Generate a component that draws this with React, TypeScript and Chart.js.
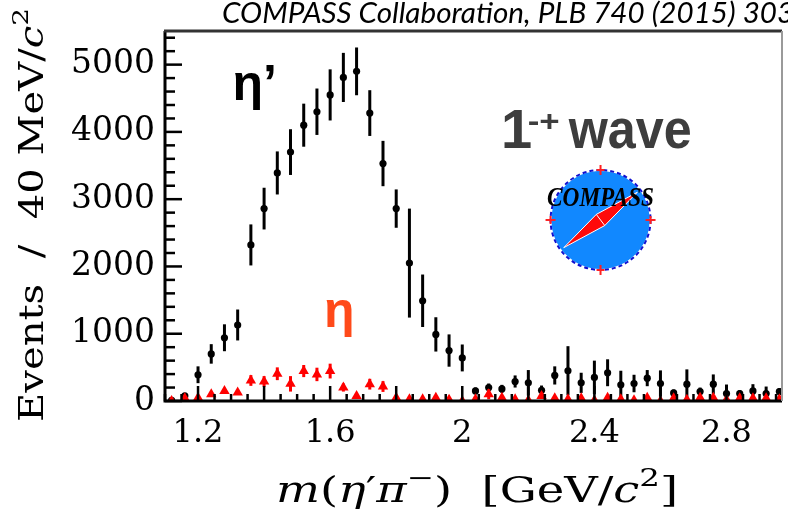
import React, { useEffect, useRef } from "react";
import { Chart, registerables } from "chart.js";

Chart.register(...registerables);

// ---- data (40 MeV bins, bin centres in GeV/c^2) ----
const MASS_GEV = [
  1.12, 1.16, 1.2, 1.24, 1.28, 1.32, 1.36, 1.4, 1.44, 1.48, 1.52, 1.56, 1.6, 1.64, 1.68, 1.72,
  1.76, 1.8, 1.84, 1.88, 1.92, 1.96, 2.0, 2.04, 2.08, 2.12, 2.16, 2.2, 2.24, 2.28, 2.32, 2.36,
  2.4, 2.44, 2.48, 2.52, 2.56, 2.6, 2.64, 2.68, 2.72, 2.76, 2.8, 2.84, 2.88, 2.92, 2.96,
];
const ETA_PRIME_EVENTS = [
  10, 75, 390, 700, 940, 1130, 2320, 2860, 3390, 3700, 4100, 4300, 4550, 4810, 4900, 4280,
  3530, 2860, 2050, 1490, 990, 750, 640, 150, 200, 180, 290, 270, 160, 380, 450, 270,
  350, 420, 240, 260, 340, 260, 120, 250, 140, 250, 110, 110, 150, 110, 140,
];
const ETA_PRIME_ERR = [
  20, 40, 125, 145, 200, 230, 305, 310, 320, 340, 320, 345, 380, 365, 355, 340,
  337, 285, 810, 390, 255, 240, 200, 50, 60, 60, 90, 190, 70, 135, 365, 150,
  250, 200, 210, 130, 120, 195, 50, 220, 60, 145, 135, 50, 100, 105, 50,
];
const ETA_EVENTS = [
  0, 40, 50, 100, 150, 125, 305, 290, 405, 255, 445, 395, 445, 200, 75, 250,
  215, 50, 25, 25, 50, 20, 0, 25, 100, 50, 25, 10, 75, 40, 25, 40,
  10, 50, 25, 10, 50, 0, 40, 20, 50, 50, 20, 40, 40, 40, 25,
];
const ETA_ERR = [
  20, 25, 25, 30, 30, 30, 80, 80, 95, 115, 90, 100, 110, 60, 30, 80,
  80, 30, 25, 25, 30, 25, 25, 25, 75, 30, 25, 25, 30, 25, 25, 25,
  25, 30, 25, 25, 30, 25, 25, 25, 30, 30, 25, 25, 25, 25, 25,
];
const X_TICKS = [1.2, 1.6, 2.0, 2.4, 2.8];
const Y_TICKS = [0, 1000, 2000, 3000, 4000, 5000];

const SERIF = "'DejaVu Serif', 'Liberation Serif', serif";
const SANS = "'Liberation Sans', Arial, sans-serif";

type Run = { t: string; italic?: boolean; bold?: boolean; size?: number; rise?: number };

function runFont(r: Run, size: number, family: string) {
  const s = r.size ? size * r.size : size;
  return `${r.italic ? "italic " : ""}${r.bold ? "bold " : ""}${s}px ${family}`;
}

function drawRuns(
  ctx: CanvasRenderingContext2D,
  runs: Run[],
  size: number,
  family: string,
  x: number,
  y: number,
  o: { align?: "left" | "center"; width?: number; rotate?: number; color: string }
) {
  ctx.save();
  const widths = runs.map((r) => {
    ctx.font = runFont(r, size, family);
    return ctx.measureText(r.t).width;
  });
  const total = widths.reduce((a, b) => a + b, 0);
  const sx = o.width ? o.width / total : 1;
  ctx.translate(x, y);
  if (o.rotate) ctx.rotate(o.rotate);
  ctx.scale(sx, 1);
  let cx = o.align === "center" ? -total / 2 : 0;
  ctx.fillStyle = o.color;
  ctx.textBaseline = "alphabetic";
  ctx.textAlign = "left";
  runs.forEach((r, i) => {
    ctx.font = runFont(r, size, family);
    ctx.fillText(r.t, cx, r.rise ? -r.rise * size : 0);
    cx += widths[i];
  });
  ctx.restore();
}

const errorBarPlugin = {
  id: "errorBars",
  beforeDatasetDraw(chart: any, args: any) {
    const ds = chart.data.datasets[args.index];
    if (!ds.errors) return;
    const ctx: CanvasRenderingContext2D = chart.ctx;
    const ys = chart.scales.y;
    const a = chart.chartArea;
    ctx.save();
    ctx.beginPath();
    ctx.rect(a.left, a.top, a.right - a.left, a.bottom - a.top);
    ctx.clip();
    ctx.strokeStyle = ds.errorColor;
    ctx.lineWidth = 3;
    args.meta.data.forEach((pt: any, i: number) => {
      const v = ds.data[i].y;
      const e = ds.errors[i];
      ctx.beginPath();
      ctx.moveTo(pt.x, ys.getPixelForValue(v - e));
      ctx.lineTo(pt.x, ys.getPixelForValue(v + e));
      ctx.stroke();
    });
    ctx.restore();
  },
};

const decorPlugin = {
  id: "decor",
  afterDatasetsDraw(chart: any) {
    const ctx: CanvasRenderingContext2D = chart.ctx;
    const xs = chart.scales.x;
    const ys = chart.scales.y;
    const X = (v: number) => xs.getPixelForValue(v);
    const Y = (v: number) => ys.getPixelForValue(v);

    // labels inside the frame
    drawRuns(ctx, [{ t: "η’", bold: true }], 50, SANS, X(1.3046), Y(4475), { color: "#000" });
    drawRuns(ctx, [{ t: "η", bold: true }], 50, SANS, X(1.5813), Y(1100), { color: "#ff4a1a" });
    drawRuns(ctx, [{ t: "1", bold: true }], 56, SANS, X(2.117), Y(3761), { color: "#3d3d3d" });
    drawRuns(ctx, [{ t: "-+", bold: true }], 30, SANS, X(2.198), Y(4014), { color: "#3d3d3d", width: 32 });
    drawRuns(ctx, [{ t: "wave", bold: true }], 56, SANS, X(2.322), Y(3761), { color: "#3d3d3d", width: 123 });

    // COMPASS logo
    const cx = X(2.4186);
    const cy = Y(2691);
    const r = 50;
    ctx.save();
    ctx.beginPath();
    ctx.arc(cx, cy, r, 0, Math.PI * 2);
    ctx.fillStyle = "#1188ff";
    ctx.fill();
    ctx.lineWidth = 2;
    ctx.strokeStyle = "#ffffff";
    ctx.stroke();
    ctx.setLineDash([4, 3]);
    ctx.strokeStyle = "#1010d0";
    ctx.stroke();
    ctx.setLineDash([]);
    // cardinal marks
    ctx.strokeStyle = "#ff2020";
    ctx.lineWidth = 2;
    const marks = [
      [0, -1],
      [0, 1],
      [1, 0],
      [-1, 0],
    ];
    marks.forEach(([dx, dy]) => {
      ctx.beginPath();
      ctx.moveTo(cx + dx * (r - 5), cy + dy * (r - 5));
      ctx.lineTo(cx + dx * (r + 5), cy + dy * (r + 5));
      ctx.stroke();
      ctx.beginPath();
      ctx.moveTo(cx + dx * r - dy * 4, cy + dy * r - dx * 4);
      ctx.lineTo(cx + dx * r + dy * 4, cy + dy * r + dx * 4);
      ctx.stroke();
    });
    // needle
    const ang = (-37 * Math.PI) / 180;
    const L = 46;
    const W = 7;
    const ux = Math.cos(ang);
    const uy = Math.sin(ang);
    const px = -uy;
    const py = ux;
    ctx.beginPath();
    ctx.moveTo(cx + ux * L, cy + uy * L);
    ctx.lineTo(cx + px * W, cy + py * W);
    ctx.lineTo(cx - ux * L, cy - uy * L);
    ctx.lineTo(cx - px * W, cy - py * W);
    ctx.closePath();
    ctx.fillStyle = "#ff0a0a";
    ctx.fill();
    ctx.strokeStyle = "#ffffff";
    ctx.lineWidth = 1;
    ctx.stroke();
    ctx.beginPath();
    ctx.moveTo(cx + px * W, cy + py * W);
    ctx.lineTo(cx - px * W, cy - py * W);
    ctx.stroke();
    ctx.restore();
    drawRuns(ctx, [{ t: "COMPASS", bold: true, italic: true }], 27, "'Liberation Serif', serif", cx, cy - 14, {
      color: "#000",
      align: "center",
      width: 107,
    });
  },
  afterDraw(chart: any) {
    const ctx: CanvasRenderingContext2D = chart.ctx;
    const xs = chart.scales.x;
    const ys = chart.scales.y;
    const a = chart.chartArea;
    ctx.save();
    // tick marks (inward)
    ctx.strokeStyle = "#000";
    ctx.lineWidth = 2.5;
    for (let v = 0; v <= 5400; v += 200) {
      const y = ys.getPixelForValue(v);
      const len = v % 1000 === 0 ? 17 : 10;
      ctx.beginPath();
      ctx.moveTo(a.left, y);
      ctx.lineTo(a.left + len, y);
      ctx.stroke();
    }
    for (let k = 22; k <= 59; k++) {
      const v = k * 0.05;
      const x = xs.getPixelForValue(v);
      const len = k % 4 === 0 ? 15 : 7;
      ctx.beginPath();
      ctx.moveTo(x, a.bottom);
      ctx.lineTo(x, a.bottom - len);
      ctx.stroke();
    }
    // frame
    ctx.lineWidth = 3;
    ctx.strokeStyle = "#000";
    ctx.beginPath();
    ctx.moveTo(a.left, a.top);
    ctx.lineTo(a.left, a.bottom);
    ctx.lineTo(a.right, a.bottom);
    ctx.stroke();
    ctx.strokeStyle = "#333";
    ctx.beginPath();
    ctx.moveTo(a.left - 1, a.top);
    ctx.lineTo(a.right, a.top);
    ctx.stroke();
    ctx.strokeStyle = "#9a9a9a";
    ctx.lineWidth = 2;
    ctx.beginPath();
    ctx.moveTo(a.right, a.top);
    ctx.lineTo(a.right, a.bottom);
    ctx.stroke();
    ctx.restore();

    // axis titles
    drawRuns(
      ctx,
      [
        { t: "m", italic: true },
        { t: "(" },
        { t: "η", italic: true },
        { t: "′" },
        { t: "π", italic: true },
        { t: "−", size: 0.7, rise: 0.45 },
        { t: ")" },
        { t: "  [GeV/" },
        { t: "c", italic: true },
        { t: "2", size: 0.7, rise: 0.45 },
        { t: "]" },
      ],
      35,
      SERIF,
      477,
      502,
      { color: "#000", align: "center", width: 402 }
    );
    drawRuns(
      ctx,
      [{ t: "Events  /  40 MeV/" }, { t: "c", italic: true }, { t: "2", size: 0.7, rise: 0.45 }],
      33,
      SERIF,
      43,
      422,
      { color: "#000", rotate: -Math.PI / 2, width: 414 }
    );

    // citation at top
    ctx.save();
    const cite = "COMPASS Collaboration, PLB 740 (2015) 303";
    ctx.font = "italic 28px Lato, 'Open Sans', sans-serif";
    const part = ctx.measureText("COMPASS Collaboration, PLB 740 (2015) 30").width;
    const sx = 555 / part;
    ctx.translate(222, 23);
    ctx.scale(sx, 1);
    ctx.fillStyle = "#000";
    ctx.textBaseline = "alphabetic";
    ctx.fillText(cite, 0, 0);
    ctx.restore();
  },
};

export default function App() {
  const ref = useRef<HTMLCanvasElement | null>(null);
  useEffect(() => {
    if (!ref.current) return;
    const chart = new Chart(ref.current, {
      type: "scatter",
      data: {
        datasets: [
          {
            label: "η",
            data: MASS_GEV.map((m, i) => ({ x: m, y: ETA_EVENTS[i] })),
            pointStyle: "triangle",
            pointRadius: 6,
            backgroundColor: "#ff0000",
            borderColor: "#ff0000",
            borderWidth: 0,
            errors: ETA_ERR,
            errorColor: "#ff0000",
          } as any,
          {
            label: "η′",
            data: MASS_GEV.map((m, i) => ({ x: m, y: ETA_PRIME_EVENTS[i] })),
            pointStyle: "circle",
            pointRadius: 3.6,
            backgroundColor: "#000",
            borderColor: "#000",
            borderWidth: 0,
            errors: ETA_PRIME_ERR,
            errorColor: "#000",
          } as any,
        ],
      },
      options: {
        animation: false,
        responsive: false,
        layout: { padding: { top: 31, right: 1, left: 0, bottom: 0 } },
        plugins: { legend: { display: false }, tooltip: { enabled: false } },
        scales: {
          x: {
            type: "linear",
            min: 1.1,
            max: 2.968,
            grid: { display: false, drawTicks: false },
            border: { display: false },
            afterBuildTicks: (s: any) => {
              s.ticks = X_TICKS.map((v) => ({ value: v }));
            },
            afterFit: (s: any) => {
              s.height = 113;
            },
            ticks: {
              font: { family: SERIF, size: 32 },
              color: "#000",
              padding: 13,
              maxRotation: 0,
              autoSkip: false,
              callback: (v: any) => String(Number(Number(v).toFixed(1))),
            },
          },
          y: {
            type: "linear",
            min: 0,
            max: 5500,
            grid: { display: false, drawTicks: false },
            border: { display: false },
            afterBuildTicks: (s: any) => {
              s.ticks = Y_TICKS.map((v) => ({ value: v }));
            },
            afterFit: (s: any) => {
              s.width = 165;
            },
            ticks: {
              font: { family: SERIF, size: 33 },
              color: "#000",
              padding: 10,
              autoSkip: false,
              callback: (v: any) => String(v),
            },
          },
        },
      },
      plugins: [errorBarPlugin, decorPlugin],
    });
    return () => chart.destroy();
  }, []);
  return (
    <canvas
      ref={ref}
      width={788}
      height={514}
      style={{ position: "absolute", left: 0, top: 0, display: "block", width: 788, height: 514 }}
    />
  );
}
